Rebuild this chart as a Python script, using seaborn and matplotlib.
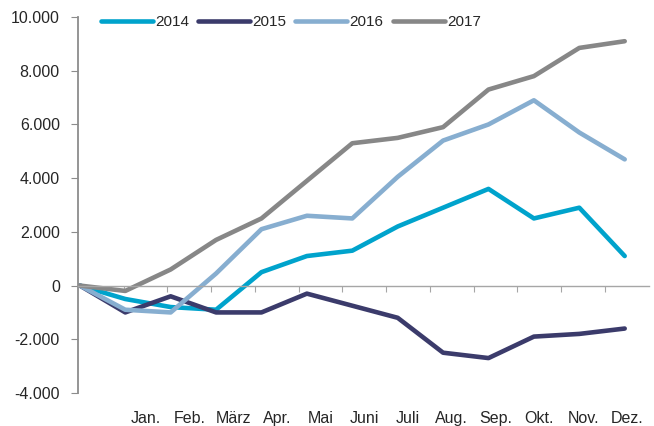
import pandas as pd
import seaborn as sns
import matplotlib.pyplot as plt

# cumulative values, first point is the start (0) before Jan.
months = ["Jan.", "Feb.", "März", "Apr.", "Mai", "Juni", "Juli", "Aug.", "Sep.", "Okt.", "Nov.", "Dez."]
years = ["2014", "2015", "2016", "2017"]
v2014 = [0, -500, -800, -900, 500, 1100, 1300, 2200, 2900, 3600, 2500, 2900, 1100]
v2015 = [0, -1000, -400, -1000, -1000, -300, -750, -1200, -2500, -2700, -1900, -1800, -1600]
v2016 = [0, -900, -1000, 450, 2100, 2600, 2500, 4050, 5400, 6000, 6900, 5700, 4700]
v2017 = [0, -200, 600, 1700, 2500, 3900, 5300, 5500, 5900, 7300, 7800, 8850, 9100]
colors = ["#00A3CC", "#3B3B6B", "#87AED0", "#878787"]
y_ticks = [-4000, -2000, 0, 2000, 4000, 6000, 8000, 10000]
y_labels = ["-4.000", "-2.000", "0", "2.000", "4.000", "6.000", "8.000", "10.000"]

df = pd.DataFrame({
    "x": list(range(13)) * 4,
    "value": v2014 + v2015 + v2016 + v2017,
    "year": [y for y in years for _ in range(13)],
})

sns.set_style("white")
plt.rcParams['font.family'] = ['Liberation Sans', 'DejaVu Sans']

fig, ax = plt.subplots(figsize=(6.54, 4.26), dpi=100)
fig.subplots_adjust(left=0.119, right=0.992, top=0.960, bottom=0.0775)

sns.lineplot(data=df, x="x", y="value", hue="year", palette=colors, linewidth=3.3,
             solid_capstyle="round", solid_joinstyle="round", ax=ax)

ax.set_xlim(-0.045, 12.53)
ax.set_ylim(-4000, 10000)
ax.set_yticks(y_ticks)
ax.set_yticklabels(y_labels)
ax.set_xlabel("")
ax.set_ylabel("")

# category boundaries (Excel style axis with 13 slots), ticks sit on the zero line
cat_w = 12.53 / 13
ax.set_xticks([k * cat_w for k in range(1, 13)])
ax.set_xticklabels([])

ax.spines['bottom'].set_position(('data', 0))
ax.spines['bottom'].set_color("#A6A6A6")
ax.spines['bottom'].set_linewidth(1.0)
ax.spines['left'].set_color("#8C8C8C")
ax.spines['left'].set_linewidth(1.3)
ax.spines['top'].set_visible(False)
ax.spines['right'].set_visible(False)
ax.tick_params(axis='x', direction='out', length=4, color="#A6A6A6", bottom=True)
ax.tick_params(axis='y', direction='out', length=5, color="#8C8C8C", labelsize=11.5, pad=8, left=True)

# month labels at the bottom of the plot area, centered in their slots
sec = ax.secondary_xaxis('bottom')
sec.set_xticks([(k + 0.5) * cat_w for k in range(1, 13)])
sec.set_xticklabels(months)
sec.tick_params(length=0, labelsize=11.5, pad=13)
sec.spines['bottom'].set_visible(False)

handles, labels = ax.get_legend_handles_labels()
for h in handles:
    h.set_solid_capstyle("round")
ax.legend(handles, labels, ncol=4, frameon=False, loc='center left',
          bbox_to_anchor=(0.04, 0.986), borderaxespad=0, borderpad=0,
          handlelength=3.4, handletextpad=0.15, columnspacing=0.6, fontsize=11)

fig.savefig("out.png", dpi=100)
